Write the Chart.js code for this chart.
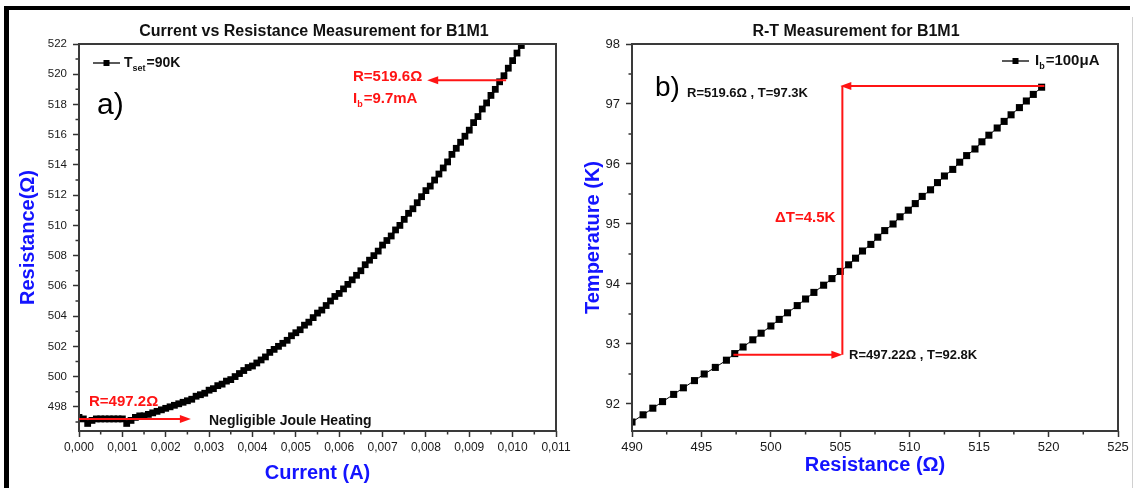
<!DOCTYPE html>
<html><head><meta charset="utf-8">
<script src="https://cdn.jsdelivr.net/npm/chart.js@4.4.1/dist/chart.umd.min.js"></script>
<style>
html,body{margin:0;padding:0;background:#fff;}
body{width:1135px;height:488px;position:relative;overflow:hidden;font-family:'Liberation Sans',Arial,sans-serif;}
#frame{position:absolute;left:4px;top:6px;width:1126px;height:482px;border-top:4px solid #000;border-left:5px solid #000;box-sizing:border-box;pointer-events:none;}
#rline{position:absolute;left:1132px;top:17px;width:1px;height:471px;background:#d0d0d0;}
#w1{position:absolute;left:0;top:0;width:590px;height:488px;}
#w2{position:absolute;left:567px;top:0;width:568px;height:488px;}
</style></head>
<body>
<div id="w1"><canvas id="c1"></canvas></div>
<div id="w2"><canvas id="c2"></canvas></div>
<div id="frame"></div><div id="rline"></div>
<script>
// ---------- Data: (a) Current vs Resistance ----------
const currentA = [0.0000,0.0001,0.0002,0.0003,0.0004,0.0005,0.0006,0.0007,0.0008,0.0009,
0.0010,0.0011,0.0012,0.0013,0.0014,0.0015,0.0016,0.0017,0.0018,0.0019,
0.0020,0.0021,0.0022,0.0023,0.0024,0.0025,0.0026,0.0027,0.0028,0.0029,
0.0030,0.0031,0.0032,0.0033,0.0034,0.0035,0.0036,0.0037,0.0038,0.0039,
0.0040,0.0041,0.0042,0.0043,0.0044,0.0045,0.0046,0.0047,0.0048,0.0049,
0.0050,0.0051,0.0052,0.0053,0.0054,0.0055,0.0056,0.0057,0.0058,0.0059,
0.0060,0.0061,0.0062,0.0063,0.0064,0.0065,0.0066,0.0067,0.0068,0.0069,
0.0070,0.0071,0.0072,0.0073,0.0074,0.0075,0.0076,0.0077,0.0078,0.0079,
0.0080,0.0081,0.0082,0.0083,0.0084,0.0085,0.0086,0.0087,0.0088,0.0089,
0.0090,0.0091,0.0092,0.0093,0.0094,0.0095,0.0096,0.0097,0.0098,0.0099,
0.0100,0.0101,0.0102,0.0103];
const resistanceOhm = [497.3,497.2,496.9,497.1,497.2,497.2,497.2,497.2,497.2,497.2,
497.2,496.9,497.1,497.3,497.4,497.4,497.5,497.6,497.7,497.8,
497.9,498.0,498.1,498.2,498.3,498.4,498.5,498.7,498.8,498.9,
499.1,499.2,499.4,499.5,499.7,499.8,500.0,500.2,500.4,500.6,
500.7,500.9,501.1,501.3,501.6,501.8,502.0,502.2,502.4,502.7,
502.9,503.1,503.4,503.6,503.9,504.2,504.4,504.7,505.0,505.3,
505.5,505.8,506.1,506.4,506.7,507.0,507.4,507.7,508.0,508.3,
508.7,509.0,509.3,509.7,510.0,510.4,510.8,511.1,511.5,511.9,
512.3,512.6,513.0,513.4,513.8,514.2,514.7,515.1,515.5,515.9,
516.3,516.8,517.2,517.7,518.1,518.6,519.0,519.5,519.9,520.4,
520.9,521.4,521.9,522.4];
const xTicksA = [0,0.001,0.002,0.003,0.004,0.005,0.006,0.007,0.008,0.009,0.010,0.011];
const xMinorA = [0.0005,0.0015,0.0025,0.0035,0.0045,0.0055,0.0065,0.0075,0.0085,0.0095,0.0105];
const yTicksA = [498,500,502,504,506,508,510,512,514,516,518,520,522];
const yMinorA = [497,499,501,503,505,507,509,511,513,515,517,519,521];

// ---------- Data: (b) R-T ----------
const rtResistance = [490.0,490.8,491.5,492.2,493.0,493.7,494.5,495.2,496.0,496.8,
497.4,498.0,498.7,499.3,500.0,500.6,501.2,501.9,502.5,503.1,
503.8,504.4,505.0,505.6,506.1,506.6,507.2,507.7,508.2,508.8,
509.3,509.9,510.4,510.9,511.5,512.0,512.5,513.1,513.6,514.1,
514.7,515.2,515.7,516.3,516.8,517.3,517.9,518.4,518.9,519.5];
const rtTemperature = [91.70,91.82,91.93,92.04,92.16,92.27,92.39,92.50,92.61,92.73,
92.84,92.95,93.07,93.18,93.30,93.41,93.52,93.64,93.75,93.86,
93.98,94.09,94.21,94.32,94.43,94.55,94.66,94.78,94.89,95.00,
95.12,95.23,95.34,95.46,95.57,95.69,95.80,95.91,96.03,96.14,
96.25,96.37,96.48,96.60,96.71,96.82,96.94,97.05,97.16,97.28];
const xTicksB = [490,495,500,505,510,515,520,525];
const xMinorB = [492.5,497.5,502.5,507.5,512.5,517.5,522.5];
const yTicksB = [92,93,94,95,96,97,98];
const yMinorB = [92.5,93.5,94.5,95.5,96.5,97.5];

const FF = "'Liberation Sans', Arial, sans-serif";
const RED = '#ff1414';
const BLUE = '#1414ff';

function frameAndMinor(xMinor, yMinor){
  return {id:'frameMinor', afterDraw(chart){
    const {ctx, chartArea:a, scales:{x,y}} = chart;
    ctx.save();
    ctx.strokeStyle='#333'; ctx.lineWidth=1.5; ctx.beginPath();
    xMinor.forEach(v=>{const p=x.getPixelForValue(v); ctx.moveTo(p,a.bottom); ctx.lineTo(p,a.bottom+3.5);});
    yMinor.forEach(v=>{const p=y.getPixelForValue(v); ctx.moveTo(a.left,p); ctx.lineTo(a.left-3.5,p);});
    ctx.stroke();
    ctx.strokeStyle='#3a3a3a'; ctx.lineWidth=2;
    ctx.strokeRect(a.left,a.top,a.right-a.left,a.bottom-a.top);
    ctx.restore();
  }};
}
function arrow(ctx,x1,y1,x2,y2){
  const ang=Math.atan2(y2-y1,x2-x1), L=11, W=4;
  ctx.beginPath(); ctx.moveTo(x1,y1); ctx.lineTo(x2-L*0.6*Math.cos(ang), y2-L*0.6*Math.sin(ang)); ctx.stroke();
  ctx.beginPath(); ctx.moveTo(x2,y2);
  ctx.lineTo(x2-L*Math.cos(ang)+W*Math.sin(ang), y2-L*Math.sin(ang)-W*Math.cos(ang));
  ctx.lineTo(x2-L*Math.cos(ang)-W*Math.sin(ang), y2-L*Math.sin(ang)+W*Math.cos(ang));
  ctx.closePath(); ctx.fill();
}
function subText(ctx,x,y,parts,size){
  let cx=x;
  parts.forEach(([t,s])=>{
    const fs = s? Math.round(size*0.62) : size;
    ctx.font = `bold ${fs}px ${FF}`;
    ctx.fillText(t, cx, s? y+size*0.38 : y);
    cx += ctx.measureText(t).width + (s?1:0);
  });
}
function legendMark(ctx,x1,x2,y,half){
  ctx.strokeStyle='#000'; ctx.lineWidth=1.3;
  ctx.beginPath(); ctx.moveTo(x1,y); ctx.lineTo(x2,y); ctx.stroke();
  ctx.fillStyle='#000'; const m=(x1+x2)/2; ctx.fillRect(m-half,y-half,2*half,2*half);
}

const annotA = {id:'annotA', afterDraw(chart){
  const {ctx, scales:{x,y}} = chart;
  const X=v=>x.getPixelForValue(v), Y=v=>y.getPixelForValue(v);
  ctx.save(); ctx.textBaseline='middle';
  ctx.fillStyle='#111'; ctx.textAlign='center'; ctx.font=`bold 16px ${FF}`;
  ctx.fillText('Current vs Resistance Measurement for B1M1', 314, 32);
  ctx.textAlign='left';
  legendMark(ctx,93,120,63,3);
  ctx.fillStyle='#111'; subText(ctx,124,63,[['T',false],['set',true],['=90K',false]],14);
  ctx.font=`30px ${FF}`; ctx.fillStyle='#000'; ctx.fillText('a)', 97, 106);
  ctx.fillStyle=RED; ctx.strokeStyle=RED; ctx.lineWidth=2;
  subText(ctx,353,77,[['R=519.6\u03A9',false]],15);
  subText(ctx,353,99,[['I',false],['b',true],['=9.7mA',false]],15);
  arrow(ctx, X(0.00985), Y(519.6), X(0.00803), Y(519.6));
  subText(ctx,89,402,[['R=497.2\u03A9',false]],15);
  arrow(ctx, X(0.0000), Y(497.2), X(0.00258), Y(497.2));
  ctx.fillStyle='#111'; ctx.font=`bold 14px ${FF}`;
  ctx.fillText('Negligible Joule Heating', 209, 421);
  ctx.restore();
}};

const annotB = {id:'annotB', afterDraw(chart){
  const {ctx, scales:{x,y}} = chart;
  const X=v=>x.getPixelForValue(v), Y=v=>y.getPixelForValue(v);
  ctx.save(); ctx.textBaseline='middle';
  ctx.fillStyle='#111'; ctx.textAlign='center'; ctx.font=`bold 16px ${FF}`;
  ctx.fillText('R-T Measurement for B1M1', 856-567, 32);
  ctx.textAlign='left';
  legendMark(ctx,1002-567,1029-567,61,3);
  ctx.fillStyle='#111'; subText(ctx,1035-567,61,[['I',false],['b',true],['=100\u03BCA',false]],15);
  ctx.font=`28px ${FF}`; ctx.fillStyle='#000'; ctx.fillText('b)', 655-567, 88);
  ctx.fillStyle='#111'; ctx.font=`bold 13px ${FF}`;
  ctx.fillText('R=519.6\u03A9 , T=97.3K', 687-567, 93);
  ctx.fillText('R=497.22\u03A9 , T=92.8K', 849-567, 355);
  ctx.fillStyle=RED; ctx.strokeStyle=RED; ctx.lineWidth=2;
  arrow(ctx, X(519.7), Y(97.3), X(505.0), Y(97.3));
  ctx.beginPath(); ctx.moveTo(X(505.15), Y(97.3)); ctx.lineTo(X(505.15), Y(92.82)); ctx.stroke();
  arrow(ctx, X(497.3), Y(92.82), X(505.15), Y(92.82));
  ctx.font=`bold 15px ${FF}`; ctx.fillText('\u0394T=4.5K', 775-567, 218);
  ctx.restore();
}};

function axisCommon(min,max,ticks,size,cb,fitProp,fitVal,title,titlePad){
  return {
    type:'linear', min, max,
    afterBuildTicks: s => { s.ticks = ticks.map(v=>({value:v})); },
    afterFit: s => { s[fitProp] = fitVal; },
    ticks:{ font:{family:FF,size}, color:'#1a1a1a', maxRotation:0, autoSkip:false, padding: fitProp==='width'?6:3, callback: cb },
    grid:{ drawOnChartArea:false, tickLength:6, tickWidth:1.5, tickColor:'#333', drawTicks:true },
    border:{ display:false },
    title:{ display:true, text:title, color:BLUE, font:{family:FF,size:20,weight:'bold'}, padding:titlePad }
  };
}

Chart.defaults.font.family = FF;

new Chart(document.getElementById('c1'), {
  type:'scatter',
  data:{ datasets:[{
    label:'Tset=90K',
    data: currentA.map((v,i)=>({x:v, y:resistanceOhm[i]})),
    showLine:true, borderColor:'#000', borderWidth:2,
    pointStyle:'rect', pointRadius:4.8, pointBackgroundColor:'#000', pointBorderWidth:0
  }]},
  options:{
    responsive:true, maintainAspectRatio:false, animation:false, devicePixelRatio:1,
    layout:{ padding:{left:10, right:34, top:44, bottom:0} },
    plugins:{ legend:{display:false}, tooltip:{enabled:false}, title:{display:false} },
    scales:{
      x: axisCommon(0,0.011,xTicksA,12, v=>Number(v).toFixed(3).replace('.',','), 'height',57,'Current (A)',{top:0,bottom:3}),
      y: axisCommon(496.4,522,yTicksA,11.5, v=>String(v), 'width',69,'Resistance(\u03A9)',{top:6,bottom:0})
    }
  },
  plugins:[frameAndMinor(xMinorA,yMinorA), annotA]
});

new Chart(document.getElementById('c2'), {
  type:'scatter',
  data:{ datasets:[{
    label:'Ib=100\u03BCA',
    data: rtResistance.map((v,i)=>({x:v, y:rtTemperature[i]})),
    showLine:true, borderColor:'#000', borderWidth:1,
    pointStyle:'rect', pointRadius:5, pointBackgroundColor:'#000', pointBorderWidth:0
  }]},
  options:{
    responsive:true, maintainAspectRatio:false, animation:false, devicePixelRatio:1,
    layout:{ padding:{left:10, right:17, top:44, bottom:0} },
    plugins:{ legend:{display:false}, tooltip:{enabled:false}, title:{display:false} },
    scales:{
      x: axisCommon(490,525,xTicksB,13, v=>String(v), 'height',57,'Resistance (\u03A9)',{top:0,bottom:11}),
      y: axisCommon(91.55,98,yTicksB,13, v=>String(v), 'width',55,'Temperature (K)',{top:4,bottom:0})
    }
  },
  plugins:[frameAndMinor(xMinorB,yMinorB), annotB]
});
</script>
</body></html>
